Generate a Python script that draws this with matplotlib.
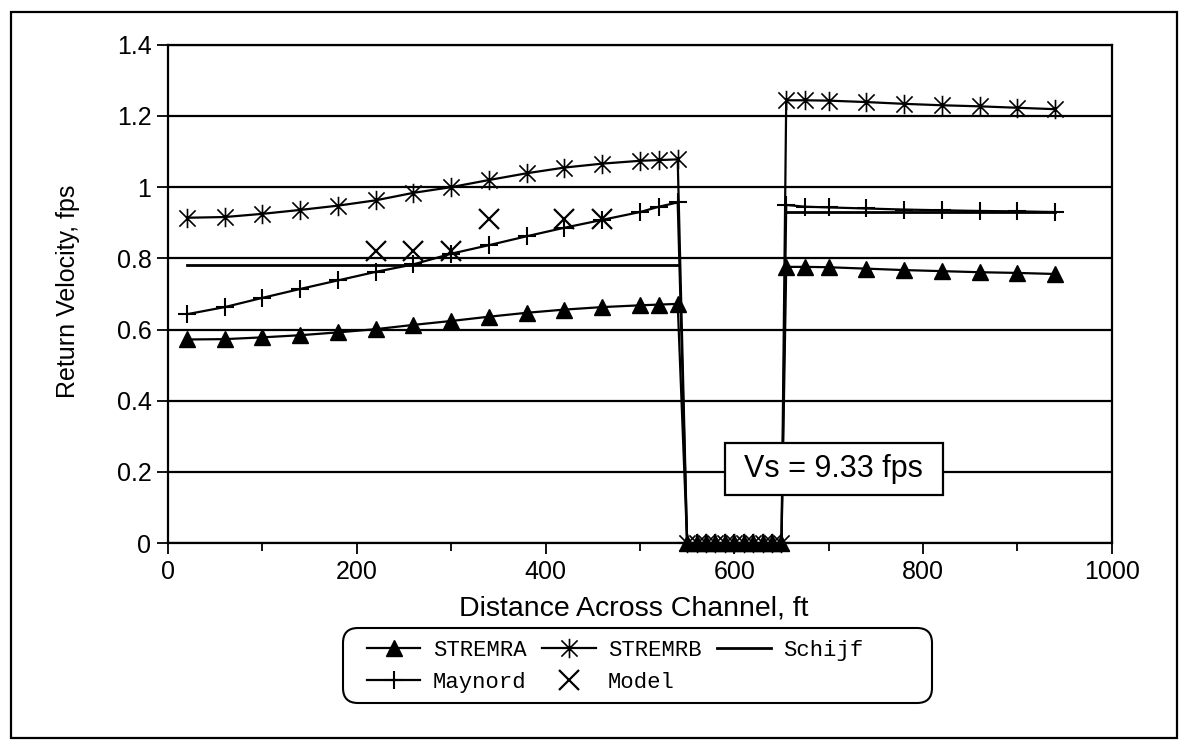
import numpy as np
import matplotlib.pyplot as plt
from matplotlib.path import Path
from matplotlib.patches import Rectangle, FancyBboxPatch
from matplotlib.ticker import MultipleLocator, FuncFormatter

plt.rcParams['font.family'] = ['Liberation Sans', 'DejaVu Sans']

# distance across channel (ft): left bank, dredged gap, right bank
distance = [20, 60, 100, 140, 180, 220, 260, 300, 340, 380, 420, 460, 500, 520, 540,
            550, 560, 570, 580, 590, 600, 610, 620, 630, 640, 650,
            655, 675, 700, 740, 780, 820, 860, 900, 940]

stremra = [0.572, 0.573, 0.578, 0.584, 0.592, 0.601, 0.613, 0.624, 0.636, 0.647, 0.656, 0.663, 0.668, 0.670, 0.672,
           0, 0, 0, 0, 0, 0, 0, 0, 0, 0, 0,
           0.776, 0.776, 0.775, 0.771, 0.767, 0.764, 0.761, 0.759, 0.756]

stremrb = [0.914, 0.916, 0.925, 0.936, 0.948, 0.963, 0.984, 1.000, 1.020, 1.039, 1.055, 1.066, 1.074, 1.076, 1.078,
           0, 0, 0, 0, 0, 0, 0, 0, 0, 0, 0,
           1.244, 1.244, 1.243, 1.239, 1.234, 1.230, 1.227, 1.223, 1.219]

maynord = [0.643, 0.663, 0.689, 0.714, 0.738, 0.762, 0.783, 0.813, 0.837, 0.862, 0.886, 0.908, 0.930, 0.945, 0.957,
           0, 0, 0, 0, 0, 0, 0, 0, 0, 0, 0,
           0.950, 0.945, 0.943, 0.940, 0.937, 0.935, 0.933, 0.932, 0.930]

schijfX = [20, 540, np.nan, 655, 940]
schijfY = [0.78, 0.78, np.nan, 0.93, 0.93]

modelX = [220, 260, 300, 340, 420, 460]
modelY = [0.82, 0.82, 0.82, 0.91, 0.91, 0.91]

# excel style asterisk: X with a vertical bar
asterisk = Path([(-1, -1), (1, 1), (-1, 1), (1, -1), (0, -1.2), (0, 1.2)],
                [Path.MOVETO, Path.LINETO, Path.MOVETO, Path.LINETO, Path.MOVETO, Path.LINETO])

fig = plt.figure(figsize=(11.84, 7.46), dpi=100)
ax = fig.add_axes([0.142, 0.272, 0.797, 0.668])

lineA, = ax.plot(distance, stremra, color='black', lw=1.6, marker='^', ms=11, mfc='black', mec='black',
                 clip_on=False, label='STREMRA')
lineB, = ax.plot(distance, stremrb, color='black', lw=1.6, marker=asterisk, ms=14, mew=1.2, mfc='none', mec='black',
                 clip_on=False, label='STREMRB')
lineS, = ax.plot(schijfX, schijfY, color='black', lw=2.0, label='Schijf')
lineM, = ax.plot(distance, maynord, color='black', lw=1.6, marker='+', ms=13, mew=1.5,
                 clip_on=False, label='Maynord')
lineX, = ax.plot(modelX, modelY, color='black', lw=0, marker='x', ms=14, mew=1.6, label='Model')

ax.set_xlim(0, 1000)
ax.set_ylim(0, 1.4)
ax.xaxis.set_major_locator(MultipleLocator(200))
ax.xaxis.set_minor_locator(MultipleLocator(100))
ax.yaxis.set_major_locator(MultipleLocator(0.2))
ax.yaxis.set_major_formatter(FuncFormatter(lambda v, p: f'{v:g}'))
ax.tick_params(axis='both', which='both', direction='out', color='black', width=1.3, labelsize=18)
ax.tick_params(axis='both', which='major', length=8, pad=4)
ax.tick_params(axis='x', which='minor', length=6)
ax.yaxis.grid(True, color='black', lw=1.6)
ax.set_axisbelow(True)
for s in ax.spines.values():
    s.set_linewidth(1.6)

ax.set_xlabel('Distance Across Channel, ft', fontsize=20.5)
ax.set_ylabel('Return Velocity, fps', fontsize=18)
ax.xaxis.set_label_coords(0.493, -0.106)
ax.yaxis.set_label_coords(-0.093, 0.505)

# ship speed note
ax.add_patch(Rectangle((590, 0.135), 231, 0.146, fc='white', ec='black', lw=1.6, zorder=6))
ax.text(705.5, 0.207, 'Vs = 9.33 fps', fontsize=22, ha='center', va='center', zorder=7)

leg = fig.legend([lineA, lineM, lineB, lineX, lineS],
                 ['STREMRA', 'Maynord', 'STREMRB', 'Model', 'Schijf'],
                 loc='upper left', bbox_to_anchor=(0.31, 0.142), ncol=3,
                 prop={'family': 'Liberation Mono', 'size': 16},
                 handlelength=2.4, handletextpad=0.55, columnspacing=0.72,
                 labelspacing=0.48, borderpad=0, borderaxespad=0, frameon=False)

# rounded legend frame, wider than its entries as in the original
fig.patches.append(FancyBboxPatch((3.43, 0.43), 5.89, 0.75, boxstyle='round,pad=0,rounding_size=0.15',
                                  transform=fig.dpi_scale_trans, fc='none', ec='black', lw=1.5))

# outer border around the whole chart
fig.patches.append(Rectangle((0.009, 0.011), 0.985, 0.973, transform=fig.transFigure,
                             fill=False, ec='black', lw=1.6))

fig.savefig('out.png', dpi=100)
